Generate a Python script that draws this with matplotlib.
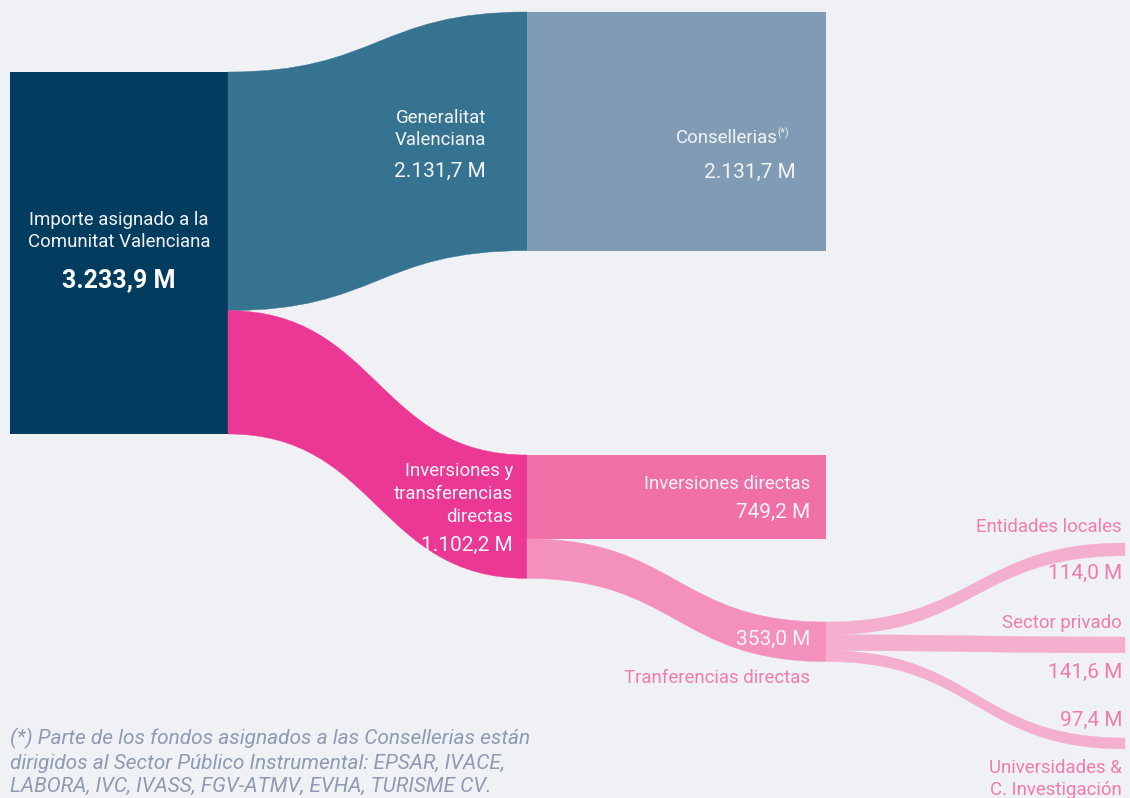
import matplotlib
matplotlib.use("Agg")
import matplotlib.pyplot as plt
from matplotlib.path import Path
from matplotlib.patches import PathPatch, Rectangle

# ---- data (millions of euros) ----
total = 3233.9
level1_labels = ["Generalitat\nValenciana", "Inversiones y\ntransferencias\ndirectas"]
level1_values = [2131.7, 1102.2]
consellerias = 2131.7
inv_directas = 749.2
transf_directas = 353.0
sub_labels = ["Entidades locales", "Sector privado", "Universidades &\nC. Investigación"]
sub_values = [114.0, 141.6, 97.4]

def fmt(v):
    s = f"{v:,.1f}"
    return s.replace(",", "X").replace(".", ",").replace("X", ".") + " M"

# ---- layout ----
W, H = 1130, 798
fig = plt.figure(figsize=(W / 100, H / 100), dpi=100, facecolor="#F0F1F5")
ax = fig.add_axes([0, 0, 1, 1])
ax.set_xlim(0, W)
ax.set_ylim(H, 0)
ax.axis("off")
ax.set_facecolor("#F0F1F5")

plt.rcParams["font.family"] = ["Roboto", "DejaVu Sans"]

k = 362 / total  # pixels per million
cols = [10, 228, 527, 826, 1125]

C_SRC = "#023D60"
C_GV = "#357391"
C_CONS = "#7F9CB4"
C_PINK = "#EC3895"
C_INV = "#F06FA7"
C_TR = "#F391BC"
C_SUB = "#F4AECE"
C_TXT = "#F2F4F7"
C_PTXT = "#F07CAF"
C_FOOT = "#8D9AB1"

LAB = 13.4
VAL = 15
LS = 1.33


def flow(x0, x1, y0, y1, w, color):
    xm = (x0 + x1) / 2
    verts = [(x0, y0), (xm, y0), (xm, y1), (x1, y1),
             (x1, y1 + w), (xm, y1 + w), (xm, y0 + w), (x0, y0 + w), (x0, y0)]
    codes = [Path.MOVETO, Path.CURVE4, Path.CURVE4, Path.CURVE4,
             Path.LINETO, Path.CURVE4, Path.CURVE4, Path.CURVE4, Path.CLOSEPOLY]
    ax.add_patch(PathPatch(Path(verts, codes), facecolor=color, edgecolor=color, lw=0.3))


# source node
src_top = 72
ax.add_patch(Rectangle((cols[0], src_top), cols[1] - cols[0], total * k, facecolor=C_SRC, lw=0))

# level-1 flows
tgt_tops = [12, 455]
l1_colors = [C_GV, C_PINK]
y = src_top
for v, t, c in zip(level1_values, tgt_tops, l1_colors):
    flow(cols[1], cols[2], y, t, v * k, c)
    y += v * k

# level-2 nodes
ax.add_patch(Rectangle((cols[2], tgt_tops[0]), cols[3] - cols[2], consellerias * k, facecolor=C_CONS, lw=0))
ax.add_patch(Rectangle((cols[2], tgt_tops[1]), cols[3] - cols[2], inv_directas * k, facecolor=C_INV, lw=0))

# transferencias flow
tr_top = 622
flow(cols[2], cols[3], tgt_tops[1] + inv_directas * k, tr_top, transf_directas * k, C_TR)

# sub flows
sub_tops = [543, 637, 738]
y = tr_top
for v, t in zip(sub_values, sub_tops):
    flow(cols[3], cols[4], y, t, v * k, C_SUB)
    y += v * k

# ---- text ----
ax.text(119, 231, "Importe asignado a la\nComunitat Valenciana", ha="center", va="center",
        color=C_TXT, fontsize=LAB, linespacing=LS)
ax.text(119, 280, fmt(total), ha="center", va="center", color="white", fontsize=18, fontweight="bold")

ax.text(486, 129, level1_labels[0], ha="right", va="center", color=C_TXT, fontsize=LAB,
        linespacing=LS, multialignment="right")
ax.text(486, 171, fmt(level1_values[0]), ha="right", va="center", color=C_TXT, fontsize=VAL)

ax.text(778, 138, "Consellerias", ha="right", va="center", color=C_TXT, fontsize=LAB)
ax.text(777, 133, "(*)", ha="left", va="center", color=C_TXT, fontsize=7.5)
ax.text(796, 172, fmt(consellerias), ha="right", va="center", color=C_TXT, fontsize=VAL)

ax.text(513, 494, level1_labels[1], ha="right", va="center", color=C_TXT, fontsize=LAB,
        linespacing=LS, multialignment="right")
ax.text(513, 545, fmt(level1_values[1]), ha="right", va="center", color=C_TXT, fontsize=VAL)

ax.text(810, 484, "Inversiones directas", ha="right", va="center", color=C_TXT, fontsize=LAB)
ax.text(810, 512, fmt(inv_directas), ha="right", va="center", color=C_TXT, fontsize=VAL)

ax.text(810, 639, fmt(transf_directas), ha="right", va="center", color=C_TXT, fontsize=VAL)
ax.text(810, 678, "Tranferencias directas", ha="right", va="center", color=C_PTXT, fontsize=LAB)

sub_label_y = [527, 623, 779]
sub_value_y = [573, 672, 720]
for lab, v, ly, vy in zip(sub_labels, sub_values, sub_label_y, sub_value_y):
    ax.text(1122, ly, lab, ha="right", va="center", color=C_PTXT, fontsize=LAB,
            linespacing=LS, multialignment="right")
    ax.text(1122, vy, fmt(v), ha="right", va="center", color=C_PTXT, fontsize=VAL)

foot = ("(*) Parte de los fondos asignados a las Consellerias están\n"
        "dirigidos al Sector Público Instrumental: EPSAR, IVACE,\n"
        "LABORA, IVC, IVASS, FGV-ATMV, EVHA, TURISME CV.")
ax.text(10, 728, foot, ha="left", va="top", color=C_FOOT, fontsize=15, style="italic",
        linespacing=1.3)

fig.savefig("out.png", dpi=100, facecolor=fig.get_facecolor())
